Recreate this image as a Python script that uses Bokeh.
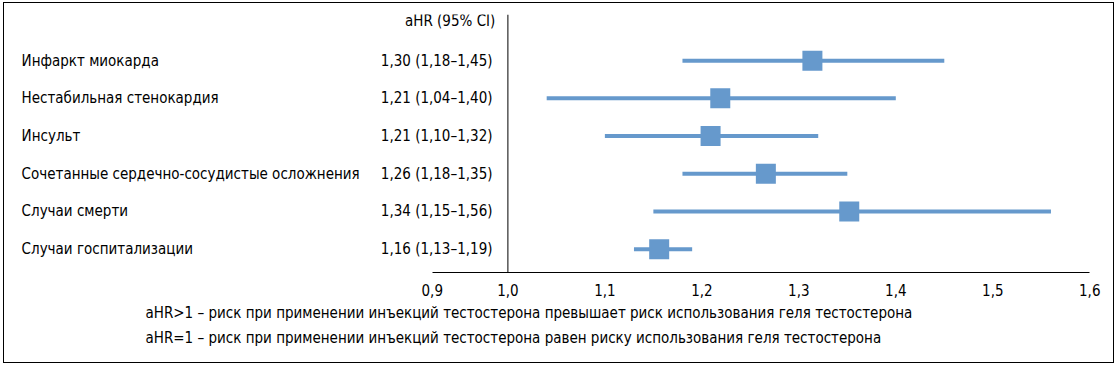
from bokeh.plotting import figure
from bokeh.models import ColumnDataSource, Range1d, FixedTicker, Span, Label, Title
from bokeh.embed import file_html
from bokeh.resources import INLINE
from bokeh.core.properties import value

# ---- data ----
outcomes = ["Инфаркт миокарда", "Нестабильная стенокардия", "Инсульт",
            "Сочетанные сердечно-сосудистые осложнения", "Случаи смерти",
            "Случаи госпитализации"]
hr_text = ["1,30 (1,18–1,45)", "1,21 (1,04–1,40)", "1,21 (1,10–1,32)",
           "1,26 (1,18–1,35)", "1,34 (1,15–1,56)", "1,16 (1,13–1,19)"]
hr = [1.314, 1.219, 1.209, 1.266, 1.352, 1.156]      # marker positions as drawn
ci_low = [1.18, 1.04, 1.10, 1.18, 1.15, 1.13]
ci_high = [1.45, 1.40, 1.32, 1.35, 1.56, 1.19]
tick_values = [0.922, 1.0, 1.1, 1.2, 1.3, 1.4, 1.5, 1.6]
tick_labels = ["0,9", "1,0", "1,1", "1,2", "1,3", "1,4", "1,5", "1,6"]
header = "aHR (95% CI)"
notes = ["aHR>1 – риск при применении инъекций тестостерона превышает риск использования геля тестостерона",
         "aHR=1 – риск при применении инъекций тестостерона равен риску использования геля тестостерона"]

FONT = "'Liberation Sans Narrow', 'Arial Narrow', 'DejaVu Sans Condensed', sans-serif"
FS = "15px"
BLUE = "#6699CC"

rows = list(range(1, len(outcomes) + 1))
src = ColumnDataSource(dict(name=outcomes, txt=hr_text, hr=hr, lo=ci_low, hi=ci_high, row=rows,
                            name_x=[0.4985] * len(rows), txt_x=[0.9841] * len(rows)))

p = figure(width=1111, height=361, output_backend="svg", toolbar_location=None,
           x_range=Range1d(0.48089, 1.62655), y_range=Range1d(6.62, -0.225),
           y_axis_location=None, min_border_left=0, min_border_right=0,
           min_border_top=11, min_border_bottom=92)
p.styles = {"border": "1px solid black", "margin": "2px 0 0 3px"}
p.outline_line_color = None
p.xgrid.visible = False
p.ygrid.visible = False
p.background_fill_color = "white"
p.border_fill_color = "white"

ax = p.xaxis[0]
ax.ticker = FixedTicker(ticks=tick_values)
ax.major_label_overrides = {v: l for v, l in zip(tick_values, tick_labels)}
ax.bounds = (tick_values[0], tick_values[-1])
ax.axis_line_color = "black"
ax.axis_line_width = 1
ax.major_tick_line_color = None
ax.minor_tick_line_color = None
ax.major_tick_out = 0
ax.major_tick_in = 0
ax.major_label_standoff = 11
ax.major_label_text_font = FONT
ax.major_label_text_font_size = FS
ax.major_label_text_color = "black"

p.add_layout(Span(location=1.0, dimension="height", line_color="black", line_width=1))

p.segment(x0="lo", y0="row", x1="hi", y1="row", source=src, line_color=BLUE, line_width=4)
p.scatter(x="hr", y="row", source=src, marker="square", size=20, fill_color=BLUE, line_color=None)

p.text(x="name_x", y="row", text="name", source=src, text_font=value(FONT), text_font_size=FS,
       text_align="left", text_baseline="middle", text_color="black")
p.text(x="txt_x", y="row", text="txt", source=src, text_font=value(FONT), text_font_size=FS,
       text_align="right", text_baseline="middle", text_color="black")

p.add_layout(Label(x=0.987, y=-0.06, text=header, text_font=FONT, text_font_size=FS,
                   text_align="right", text_baseline="middle", text_color="black"))
for note, so in zip(notes, [6, 5]):
    p.add_layout(Title(text=note, align="left", offset=141, standoff=so, text_font=FONT,
                       text_font_size=FS, text_font_style="normal", text_color="black"), "below")

open("out.html", "w").write(file_html(p, INLINE))
